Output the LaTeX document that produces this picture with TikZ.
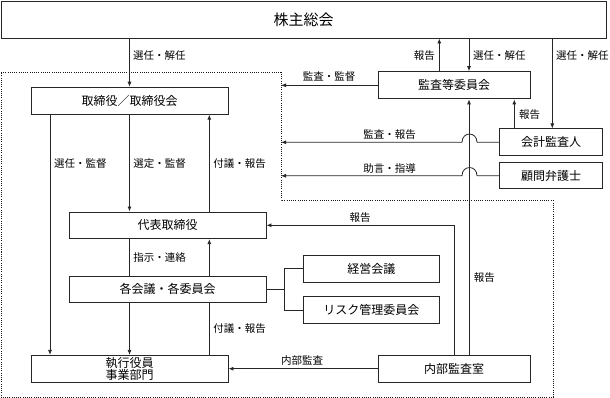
\documentclass[tikz,border=0pt]{standalone}
\usepackage{fontspec}
\setmainfont{Noto Sans CJK JP}
\usetikzlibrary{arrows.meta}
\begin{document}
\begin{tikzpicture}[x=1pt,y=-1pt,
  box/.style={draw=black!85, line width=0.9pt, inner sep=0pt, align=center, font=\fontsize{12}{12.5}\selectfont},
  lab/.style={inner sep=0pt, font=\fontsize{10.5}{11}\selectfont},
  ln/.style={line width=0.8pt, draw=black!85},
  arr/.style={ln, -{Latex[length=5pt,width=4pt]}},
  bound/.style={line width=1pt, dash pattern=on 1pt off 1.2pt, draw=black!90}]
\useasboundingbox (0,0) rectangle (610,398);

% boundary
\draw[bound] (1,72.5) -- (281,72.5) -- (281,200.5) -- (553,200.5) -- (553,397) -- (1,397) -- cycle;

% boxes
\node[box, minimum width=605pt, minimum height=37pt, font=\fontsize{15}{15}\selectfont] (kabu) at (303.5,19.5) {株主総会};
\node[box, minimum width=197pt, minimum height=27pt] (tori) at (129.5,100.7) {取締役／取締役会};
\node[box, minimum width=197pt, minimum height=26.7pt] (daihyo) at (167.5,225.3) {代表取締役};
\node[box, minimum width=197pt, minimum height=26pt] (kakukai) at (167.5,289.3) {各会議・各委員会};
\node[box, minimum width=197pt, minimum height=26.7pt] (shikko) at (129.5,368.7) {執行役員\\事業部門};
\node[box, minimum width=136pt, minimum height=26.7pt] (keiei) at (371.3,268.7) {経営会議};
\node[box, minimum width=136pt, minimum height=27pt] (risk) at (371.3,310.2) {リスク管理委員会};
\node[box, minimum width=151.7pt, minimum height=26.7pt] (naibu) at (454.2,368.7) {内部監査室};
\node[box, minimum width=151.7pt, minimum height=27.3pt] (kansa) at (454.2,85.3) {監査等委員会};
\node[box, minimum width=103.4pt, minimum height=26.7pt] (kaikei) at (551,142.3) {会計監査人};
\node[box, minimum width=103.4pt, minimum height=26.3pt] (komon) at (551,175.8) {顧問弁護士};

% x positions
\coordinate (c50) at (50,0);
\coordinate (c129) at (129.5,0);
\coordinate (c209) at (209.3,0);
\coordinate (c284) at (284,0);
\coordinate (c439) at (439.3,0);
\coordinate (c454) at (454,0);
\coordinate (c469) at (469,0);
\coordinate (c514) at (514.3,0);
\coordinate (c552) at (552.3,0);
\coordinate (bx) at (281,0);
\coordinate (hr) at (477,0);
\coordinate (hl) at (462,0);

% connectors
\draw[arr] (kabu.south -| c129) -- (tori.north -| c129);
\draw[arr] (tori.south -| c50) -- (shikko.north -| c50);
\draw[arr] (tori.south -| c129) -- (daihyo.north -| c129);
\draw[arr] (daihyo.north -| c209) -- (tori.south -| c209);
\draw[ln] (daihyo.south -| c129) -- (kakukai.north -| c129);
\draw[arr] (kakukai.north -| c209) -- (daihyo.south -| c209);
\draw[arr] (kakukai.south -| c129) -- (shikko.north -| c129);
\draw[ln] (shikko.north -| c209) -- (kakukai.south -| c209);
\draw[ln] (kakukai.east) -- (kakukai.east -| c284);
\draw[ln] (keiei.west) -- (keiei.west -| c284) -- (risk.west -| c284) -- (risk.west);
\draw[arr] (naibu.west) -- (shikko.east);
\draw[arr] (naibu.north -| c454) |- (daihyo.east);
\draw[arr] (naibu.north -| c469) -- (kansa.south -| c469);
\draw[arr] (kansa.north -| c439) -- (kabu.south -| c439);
\draw[arr] (kabu.south -| c469) -- (kansa.north -| c469);
\draw[arr] (kabu.south -| c552) -- (kaikei.north -| c552);
\draw[arr] (kaikei.north -| c514) -- (kansa.south -| c514);
\draw[arr] (kansa.west) -- (kansa.west -| bx);
\draw[arr] (kaikei.west) -- (kaikei.west -| hr) .. controls +(0,-11) and +(0,-11) .. (kaikei.west -| hl) -- (kaikei.west -| bx);
\draw[arr] (komon.west) -- (komon.west -| hr) .. controls +(0,-11) and +(0,-11) .. (komon.west -| hl) -- (komon.west -| bx);

% labels
\node[lab, anchor=west] (l1) at (133,56) {選任・解任};
\node[lab, anchor=east] (l2) at (435,56) {報告};
\node[lab, anchor=west] (l3) at (473,56) {選任・解任};
\node[lab, anchor=west] (l4) at (556,56) {選任・解任};
\node[lab] (l5) at (329,77) {監査・監督};
\node[lab] (l6) at (529.7,115) {報告};
\node[lab] (l7) at (389.7,135) {監査・報告};
\node[lab] (l8) at (389.7,168.3) {助言・指導};
\node[lab] (l9) at (80.3,163.3) {選任・監督};
\node[lab] (l10) at (159.7,163.3) {選定・監督};
\node[lab] (l11) at (239.5,163.3) {付議・報告};
\node[lab] (l12) at (159.7,257.3) {指示・連絡};
\node[lab] (l13) at (239.5,329) {付議・報告};
\node[lab] (l14) at (360,217.3) {報告};
\node[lab] (l15) at (484.3,278) {報告};
\node[lab] (l16) at (302,360.7) {内部監査};
\end{tikzpicture}
\end{document}
